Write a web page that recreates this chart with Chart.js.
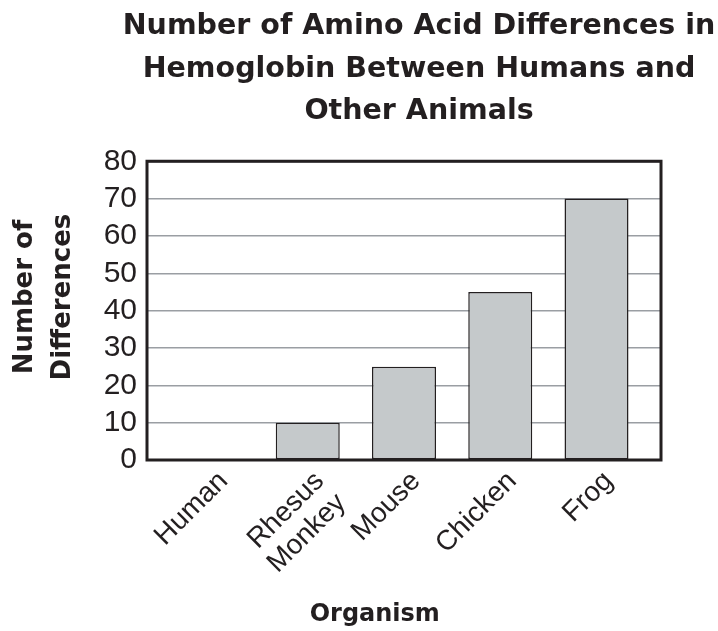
<!DOCTYPE html>
<html>
<head>
<meta charset="utf-8">
<script src="https://cdn.jsdelivr.net/npm/chart.js@4/dist/chart.umd.min.js"></script>
<style>
  html, body { margin: 0; padding: 0; background: #fff; }
  #wrap { width: 718px; height: 631px; }
</style>
</head>
<body>
<div id="wrap"><canvas id="canvas" width="718" height="631"></canvas></div>
<script>
// values
var organisms = ["Human", ["Rhesus", "Monkey"], "Mouse", "Chicken", "Frog"];
var differences = [0, 10, 25, 45, 70];
var yTicks = [0, 10, 20, 30, 40, 50, 60, 70, 80];

var ink = "#231f20";
var titleFont = "'DejaVu Sans', 'Open Sans', sans-serif";
var tickFont = "'Liberation Sans', Arial, sans-serif";

// black frame round the plot area; title box widened and nudged right like the original
var frame = {
    id: "frame",
    afterLayout: function (chart) {
        var t = chart.titleBlock, a = chart.chartArea;
        if (t) {
            var mid = (a.left + a.right) / 2 + 15;
            t.left = mid - 300;
            t.right = mid + 300;
            t.width = 600;
        }
    },
    afterDatasetsDraw: function (chart) {
        var a = chart.chartArea, ctx = chart.ctx;
        ctx.save();
        ctx.strokeStyle = ink;
        ctx.lineWidth = 3;
        ctx.strokeRect(a.left, a.top, a.right - a.left, a.bottom - a.top);
        ctx.restore();
    }
};

var points = differences.map(function (v, i) { return { x: i, y: v }; });

new Chart(document.getElementById("canvas"), {
    type: "bar",
    data: {
        datasets: [{
            data: points,
            backgroundColor: "#c5c9cb",
            borderColor: ink,
            borderWidth: 1.5,
            borderSkipped: false,
            categoryPercentage: 1,
            barPercentage: 0.665
        }]
    },
    options: {
        responsive: false,
        animation: false,
        devicePixelRatio: 1,
        layout: { padding: { left: 0, right: 57, top: 0, bottom: 0 } },
        plugins: {
            legend: { display: false },
            tooltip: { enabled: false },
            title: {
                display: true,
                fullSize: false,
                text: ["Number of Amino Acid Differences in", "Hemoglobin Between Humans and", "Other Animals"],
                color: ink,
                font: { family: titleFont, size: 28.5, weight: "bold", lineHeight: 1.5 },
                padding: { top: 5, bottom: 28 }
            }
        },
        scales: {
            x: {
                type: "linear",
                min: -0.67,
                max: 4.67,
                offset: false,
                afterFit: function (s) { s.height = 171; },
                afterBuildTicks: function (s) {
                    s.ticks = organisms.map(function (_, i) { return { value: i }; });
                },
                grid: { display: false, offset: false },
                border: { display: false },
                ticks: {
                    autoSkip: false,
                    minRotation: 45,
                    maxRotation: 45,
                    padding: -2,
                    labelOffset: 12,
                    color: ink,
                    font: { family: tickFont, size: 28, lineHeight: 1.1 },
                    callback: function (v) { return organisms[v]; }
                },
                title: {
                    display: true,
                    text: "Organism       ",
                    color: ink,
                    font: { family: titleFont, size: 24, weight: "bold", lineHeight: 1.2 },
                    padding: { top: 0, bottom: 2 }
                }
            },
            y: {
                min: 0,
                max: 80,
                afterFit: function (s) { s.width = 147; },
                afterBuildTicks: function (s) {
                    s.ticks = yTicks.map(function (v) { return { value: v }; });
                },
                grid: { color: "#9a9ea3", lineWidth: 1.5, drawTicks: false },
                border: { display: false },
                ticks: {
                    autoSkip: false,
                    padding: 10,
                    color: ink,
                    font: { family: tickFont, size: 30 }
                },
                title: {
                    display: true,
                    text: ["   Number of", "   Differences"],
                    color: ink,
                    font: { family: titleFont, size: 26, weight: "bold", lineHeight: 1.46 },
                    padding: { top: 6, bottom: 0 }
                }
            }
        }
    },
    plugins: [frame]
});
</script>
</body>
</html>
